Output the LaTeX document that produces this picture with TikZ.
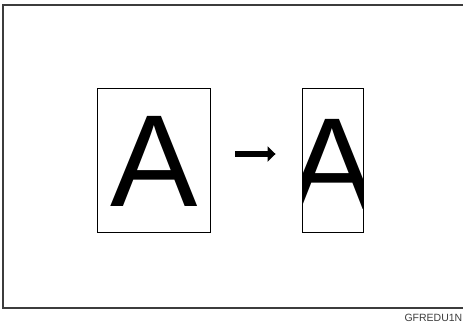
\documentclass[tikz,border=0pt]{standalone}
\usepackage{fontspec}
\setmainfont{Liberation Sans}
\newfontfamily\letterfont{Liberation Sans}
\usetikzlibrary{arrows.meta, positioning, calc}
\definecolor{framegray}{RGB}{60,60,60}

\begin{document}
\begin{tikzpicture}[
    x=1pt, y=-1pt,
    % Styles for the sheets, the letter and the arrow
    frame/.style={draw=framegray, line width=1.3pt},
    sheet/.style={draw=black, line width=0.9pt, fill=white, inner sep=0pt, minimum height=144pt},
    letter/.style={font=\letterfont\fontsize{131}{131}\selectfont, inner sep=0pt, anchor=base},
    pointer/.style={-{Triangle[length=8pt, width=15pt]}, line width=6pt, draw=black},
    code/.style={font=\fontsize{10.5}{12}\selectfont, text=framegray, inner sep=0pt, anchor=base east}
]
\useasboundingbox (0,0) rectangle (463,324);

% ----------------------------------------------------
% Outer Frame
% ----------------------------------------------------
\draw[frame] (463,5) -| (3,308) -- (463,308);

% ----------------------------------------------------
% Original and Reduced Sheets
% ----------------------------------------------------
\node[sheet, minimum width=113pt] (orig) at (153.5,160) {};
\node[letter] (origA) at (154,206) {A};

% Reduced sheet clips the letter at its edges
\node[sheet, minimum width=61pt, path picture={
    \node[letter] (redA) at ($(path picture bounding box.center)+(-0.5,49)$) {A};
}] (reduced) at (332.5,160) {};

% ----------------------------------------------------
% Arrow
% ----------------------------------------------------
\draw[pointer, shorten <=25pt, shorten >=26pt] ([yshift=6pt]orig.east) -- ([yshift=6pt]reduced.west);

% Figure code
\node[code] (figcode) at (462.5,321) {GFREDU1N};

\end{tikzpicture}
\end{document}
